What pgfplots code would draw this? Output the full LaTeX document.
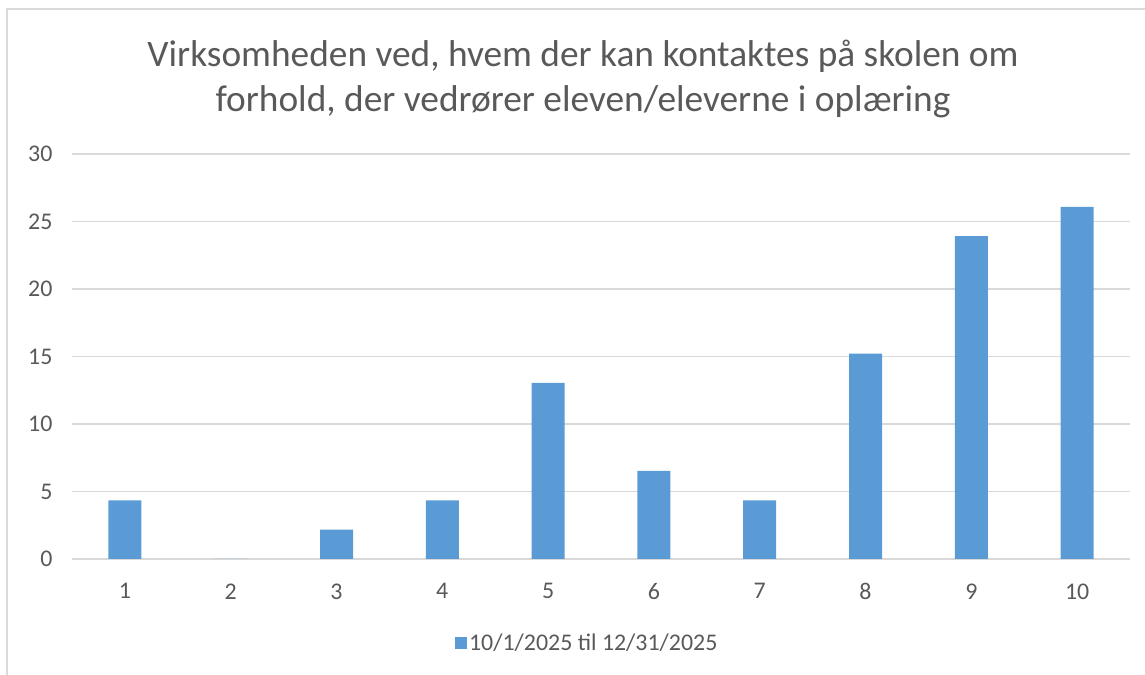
\documentclass[border=0pt]{standalone}
\usepackage{pgfplots}
\pgfplotsset{compat=1.18}
\usepackage{fontspec}
\setmainfont{Carlito}
\definecolor{barc}{HTML}{5B9BD5}
\definecolor{txt}{HTML}{595959}
\definecolor{grd}{HTML}{D9D9D9}
\begin{document}
\begin{tikzpicture}[x=1bp,y=1bp]
\useasboundingbox (0,0) rectangle (1145,675);
\draw[grd, line width=1.5bp] (7,-20) rectangle (1170,666);
\node[anchor=base, text=txt, font=\fontsize{37.5}{44}\selectfont] at (583,608) {Virksomheden ved, hvem der kan kontaktes på skolen om};
\node[anchor=base, text=txt, font=\fontsize{37.5}{44}\selectfont] at (583,563) {forhold, der vedrører eleven/eleverne i oplæring};
\begin{axis}[at={(72bp,116bp)}, anchor=south west, scale only axis,
  width=1058bp, height=405bp,
  ymin=0, ymax=30, ytick={0,5,...,30},
  xmin=0.5, xmax=10.5, xtick=data,
  ybar, bar width=33bp,
  axis x line*=bottom, axis y line*=left,
  y axis line style={draw=none},
  x axis line style={grd, line width=1.2bp},
  major tick length=0pt,
  ymajorgrids, grid style={grd, line width=1.2bp},
  tick label style={font=\fontsize{24}{28}\selectfont, text=txt},
  /pgf/number format/assume math mode=true,
  yticklabel style={xshift=-16bp},
  xticklabel style={yshift=-21bp},
  legend style={at={(0.487,-0.207)}, anchor=center, draw=none, fill=none,
    font=\fontsize{24}{28}\selectfont, text=txt},
  legend image code/.code={\fill[barc] (0bp,-6bp) rectangle (12bp,6bp);},
]
\addplot[fill=barc, draw=none] coordinates {
(1,4.35) (2,0) (3,2.17) (4,4.35) (5,13.04) (6,6.52) (7,4.35) (8,15.22) (9,23.91) (10,26.09)};
\addlegendentry{10/1/2025 til 12/31/2025}
\end{axis}
\end{tikzpicture}
\end{document}
